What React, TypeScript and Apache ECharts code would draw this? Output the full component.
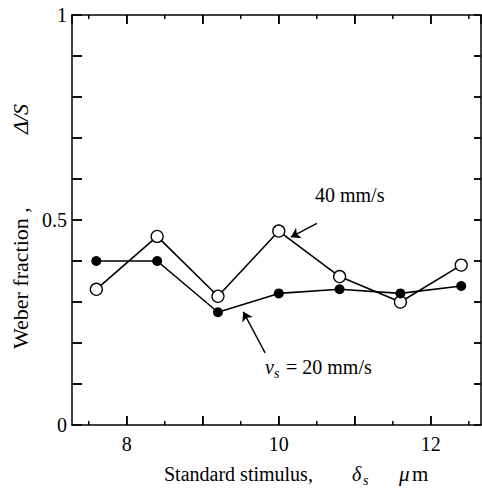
import React, { useEffect, useRef } from "react";
import * as echarts from "echarts";

// Standard stimulus δs (µm)
const STIMULUS = [7.6, 8.4, 9.2, 10.0, 10.8, 11.6, 12.4];
// Weber fraction ΔS, 40 mm/s (open circles)
const WEBER_40 = [0.331, 0.46, 0.314, 0.473, 0.362, 0.3, 0.39];
// Weber fraction ΔS, vs = 20 mm/s (filled circles)
const WEBER_20 = [0.4, 0.4, 0.275, 0.321, 0.331, 0.321, 0.339];

const X_LABELS = [8, 10, 12];
const Y_LABELS = [0, 0.5, 1];
const X_MAJOR_TICKS = [8, 9, 10, 11, 12];
const X_MINOR_TICKS = [7.5, 8.5, 9.5, 10.5, 11.5, 12.5];
const Y_TICKS = [0.1, 0.2, 0.3, 0.4, 0.5, 0.6, 0.7, 0.8, 0.9];

// annotation arrows (data coordinates: tail -> head)
const ARROW_40 = [[10.5, 0.492], [10.16, 0.458]];
const ARROW_20 = [[9.82, 0.176], [9.533, 0.276]];

const FONT = "Liberation Serif, serif";

export default function App() {
  const ref = useRef<HTMLDivElement>(null);
  useEffect(() => {
    document.body.style.margin = "0";
    if (!ref.current) return;
    const chart = echarts.init(ref.current, null, { renderer: "svg" });
    const black = "black";
    const X_MIN = 7.28, X_MAX = 12.66;

    const tickSeries = (data: number[][], dx: number, dy: number) => ({
      type: "custom",
      clip: false,
      data,
      renderItem: (_p: any, api: any) => {
        const p = api.coord([api.value(0), api.value(1)]);
        return { type: "line", shape: { x1: p[0], y1: p[1], x2: p[0] + dx, y2: p[1] + dy }, style: { stroke: black, lineWidth: 1.5 } };
      },
    });

    const arrowLine = (a: number[][]) => ({
      silent: true,
      symbol: ["none", "arrow"],
      symbolSize: 9,
      label: { show: false },
      lineStyle: { color: black, width: 1.4, type: "solid" as const },
      data: [[{ coord: a[0] }, { coord: a[1] }]],
    });
    const xLabelFmt = (v: number) => (X_LABELS.some((l) => Math.abs(l - v) < 1e-6) ? String(v) : "");
    const yLabelFmt = (v: number) => (Y_LABELS.some((l) => Math.abs(l - v) < 1e-6) ? String(Math.round(v * 10) / 10) : "");
    const tick = (len: number) => ({ show: true, inside: true, length: len, lineStyle: { color: black, width: 1.5 } });

    chart.setOption({
      animation: false,
      grid: { left: 72, top: 15, width: 409, height: 410 },
      xAxis: [
        {
          type: "value",
          position: "bottom",
          min: X_MIN,
          max: X_MAX,
          minInterval: 1,
          maxInterval: 1,
          splitLine: { show: false },
          axisLine: { show: true, lineStyle: { color: black, width: 1.5 } },
          axisTick: tick(9),
          axisLabel: { show: true, showMinLabel: false, showMaxLabel: false, margin: 9, color: black, fontSize: 20, fontFamily: FONT, formatter: xLabelFmt },
        },
        {
          type: "value",
          position: "top",
          min: X_MIN,
          max: X_MAX,
          minInterval: 1,
          maxInterval: 1,
          splitLine: { show: false },
          axisLine: { show: true, onZero: false, lineStyle: { color: black, width: 1.5 } },
          axisTick: tick(9),
          axisLabel: { show: false },
        },
      ],
      yAxis: [
        {
          type: "value",
          position: "left",
          min: 0,
          max: 1,
          interval: 0.1,
          splitLine: { show: false },
          axisLine: { show: true, lineStyle: { color: black, width: 1.5 } },
          axisTick: tick(10),
          axisLabel: { show: true, margin: 5, color: black, fontSize: 20, fontFamily: FONT, formatter: yLabelFmt },
        },
        {
          type: "value",
          position: "right",
          min: 0,
          max: 1,
          interval: 0.1,
          splitLine: { show: false },
          axisLine: { show: true, lineStyle: { color: black, width: 1.5 } },
          axisTick: tick(7),
          axisLabel: { show: false },
        },
      ],
      series: [
        tickSeries(Y_TICKS.map((v) => [X_MIN, v]), 10, 0),
        tickSeries(Y_TICKS.map((v) => [X_MAX, v]), -7, 0),
        tickSeries(X_MAJOR_TICKS.map((v) => [v, 0]), 0, -9),
        tickSeries(X_MAJOR_TICKS.map((v) => [v, 1]), 0, 9),
        tickSeries(X_MINOR_TICKS.map((v) => [v, 0]), 0, -4),
        tickSeries(X_MINOR_TICKS.map((v) => [v, 1]), 0, 4),
        {
          name: "40 mm/s",
          type: "line",
          data: STIMULUS.map((x, i) => [x, WEBER_40[i]]),
          symbol: "circle",
          symbolSize: 12,
          showAllSymbol: true,
          lineStyle: { color: black, width: 1.6 },
          itemStyle: { color: "white", borderColor: black, borderWidth: 1.3 },
          markLine: arrowLine(ARROW_40),
        },
        {
          name: "vs = 20 mm/s",
          type: "line",
          data: STIMULUS.map((x, i) => [x, WEBER_20[i]]),
          symbol: "circle",
          symbolSize: 10,
          showAllSymbol: true,
          lineStyle: { color: black, width: 1.6 },
          itemStyle: { color: black, borderColor: black, borderWidth: 0 },
          markLine: arrowLine(ARROW_20),
        },
      ],
      graphic: [
        { type: "text", x: 164, y: 474, style: { text: "Standard stimulus,", fontSize: 20, fontFamily: FONT, fill: black, verticalAlign: "middle" } },
        { type: "text", x: 352, y: 474, style: { text: "δ", fontSize: 20, fontStyle: "italic", fontFamily: FONT, fill: black, verticalAlign: "middle" } },
        { type: "text", x: 363, y: 480, style: { text: "s", fontSize: 14, fontStyle: "italic", fontFamily: FONT, fill: black, verticalAlign: "middle" } },
        { type: "text", x: 399, y: 474, style: { text: "μ", fontSize: 21, fontStyle: "italic", fontFamily: FONT, fill: black, verticalAlign: "middle" } },
        { type: "text", x: 412, y: 474, style: { text: "m", fontSize: 21, fontFamily: FONT, fill: black, verticalAlign: "middle" } },
        { type: "text", x: 20, y: 349, rotation: Math.PI / 2, style: { text: "Weber fraction ,", fontSize: 22, fontFamily: FONT, fill: black, align: "left", verticalAlign: "middle" } },
        { type: "text", x: 20, y: 134, rotation: Math.PI / 2, style: { text: "Δ/S", fontSize: 22, fontStyle: "italic", fontFamily: FONT, fill: black, align: "left", verticalAlign: "middle" } },
        { type: "text", x: 315, y: 195, style: { text: "40 mm/s", fontSize: 20, fontFamily: FONT, fill: black, verticalAlign: "middle" } },
        { type: "text", x: 265, y: 367, style: { text: "v", fontSize: 20, fontStyle: "italic", fontFamily: FONT, fill: black, verticalAlign: "middle" } },
        { type: "text", x: 274, y: 373, style: { text: "s", fontSize: 14, fontStyle: "italic", fontFamily: FONT, fill: black, verticalAlign: "middle" } },
        { type: "text", x: 286, y: 367, style: { text: "= 20 mm/s", fontSize: 20, fontFamily: FONT, fill: black, verticalAlign: "middle" } },
      ],
    });
    return () => chart.dispose();
  }, []);
  return <div ref={ref} style={{ width: 482, height: 491 }} />;
}
